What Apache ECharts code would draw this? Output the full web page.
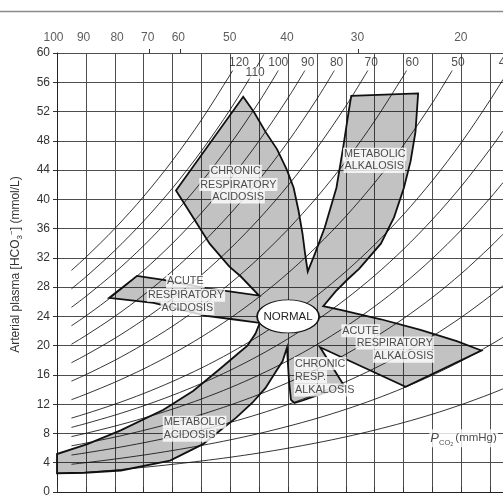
<!DOCTYPE html>
<html><head><meta charset="utf-8">
<script src="https://cdn.jsdelivr.net/npm/echarts@6/dist/echarts.min.js"></script>
<style>html,body{margin:0;padding:0;background:#fff}#c{width:503px;height:498px}</style>
</head><body><div id="c"></div><script>
// ---- top axis: [H+] (nmol/L) labels placed on the pH scale ----
var topLabelText = ['100','90','80','70','60','50','40','30','20'];
var topLabelPH   = [6.994, 7.046, 7.104, 7.157, 7.21, 7.299, 7.398, 7.52, 7.699];
var topShortTickPH = [7.159, 7.213, 7.522];

// ---- isopleths (PCO2, mmHg): HCO3 read at sample pH values ----
var phSamples = [7.025,7.05,7.10,7.15,7.20,7.25,7.30,7.35,7.40,7.45,7.50,7.55,7.60,7.65,7.70,7.75,7.772];
var iso10  = [2.52,2.67,3.00,3.37,3.78,4.24,4.75,5.33,5.99,6.72,7.54,8.46,9.49,10.64,11.94,13.40,14.10];
var iso15  = [3.79,4.01,4.50,5.05,5.67,6.36,7.13,8.00,8.98,10.07,11.30,12.68,14.23,15.97,17.91,20.10,21.14];
var iso20  = [5.05,5.35,6.00,6.73,7.55,8.48,9.51,10.67,11.97,13.43,15.07,16.91,18.97,21.29,23.89,26.80,28.19];
var iso25  = [6.31,6.68,7.50,8.42,9.44,10.59,11.89,13.34,14.96,16.79,18.84,21.14,23.72,26.61,29.86,33.50,35.24];
var iso30  = [7.57,8.02,9.00,10.10,11.33,12.71,14.26,16.00,17.96,20.15,22.61,25.37,28.46,31.93,35.83,40.20,42.29];
var iso35  = [8.83,9.36,10.50,11.78,13.22,14.83,16.64,18.67,20.95,23.51,26.37,29.59,33.20,37.26,41.80,46.90,49.34];
var iso40  = [10.10,10.70,12.00,13.46,15.11,16.95,19.02,21.34,23.94,26.86,30.14,33.82,37.95,42.58,47.77,53.60,56.39];
var iso50  = [12.62,13.37,15.00,16.83,18.88,21.19,23.77,26.67,29.93,33.58,37.68,42.28,47.43,53.22];
var iso60  = [15.15,16.04,18.00,20.20,22.66,25.43,28.53,32.01,35.91,40.30,45.21,50.73,56.92];
var iso70  = [17.67,18.72,21.00,23.56,26.44,29.66,33.28,37.34,41.90,47.01,52.75];
var iso80  = [20.19,21.39,24.00,26.93,30.21,33.90,38.04,42.68,47.89,53.73];
var iso90  = [22.72,24.06,27.00,30.29,33.99,38.14,42.79,48.01,53.87];
var iso100 = [25.24,26.74,30.00,33.66,37.77,42.38,47.55,53.35];
var iso110 = [27.77,29.41,33.00,37.03,41.54,46.61,52.30,58.68];
var iso120 = [30.29,32.09,36.00,40.39,45.32,50.85,57.06];
// end points (pH, HCO3) where each upper curve stops (null = runs to the edge)
var isoEndPH   = [null,null,null,null,null,null,null,7.684,7.605,7.538,7.480,7.429,7.383,7.358,7.304];
var isoEndHCO3 = [null,null,null,null,null,null,null,57.6,57.6,57.6,57.6,57.6,57.6,59.8,57.6];
var isoCurves = [iso10,iso15,iso20,iso25,iso30,iso35,iso40,iso50,iso60,iso70,iso80,iso90,iso100,iso110,iso120];

// isopleth labels
var isoLabelText = ['120','110','100','90','80','70','60','50','40'];
var isoLabelPH   = [7.315, 7.343, 7.383, 7.434, 7.484, 7.544, 7.615, 7.694, 7.776];
var isoLabelHCO3 = [58.7, 57.3, 58.7, 58.7, 58.7, 58.7, 58.7, 58.7, 58.7];

// ---- outline of the shaded acid-base band (pH, HCO3) ----
var outlinePH = [7.3223,7.3411,7.3610,7.3810,7.3981,7.4096,7.4181,7.4250,7.4294,7.4340,
  7.4465,7.4636,7.4837,7.4951,7.5047,7.5093,7.6251,7.6205,7.6120,7.6005,7.5834,7.5606,
  7.5233,7.5028,7.4823,7.4609,7.4927,7.5606,7.6291,7.6919,7.7346,7.6034,7.4554,7.4973,
  7.4529,7.4238,7.4110,7.4050,7.4015,7.3995,7.3981,7.3904,7.3781,7.3610,7.3382,7.3097,
  7.2527,7.1957,7.1107,7.0474,7.0,7.0,7.0525,7.1102,7.1843,7.2356,7.2813,7.3155,7.3297,
  7.3434,7.3511,7.3040,7.2583,7.1672,7.0902,7.1386,7.1843,7.2583,7.3497,7.3182,7.2984,
  7.2642,7.2356,7.2060];
var outlineHCO3 = [54.02,51.91,49.22,46.83,44.00,41.58,38.44,35.28,32.59,30.12,
  32.59,36.19,41.58,46.97,51.91,54.15,54.47,49.22,45.18,41.58,37.53,33.94,
  30.53,29.04,27.43,25.40,24.87,23.61,22.17,20.62,19.34,14.39,19.78,14.49,
  13.27,12.47,12.16,12.60,15.30,17.86,19.74,17.86,16.37,14.22,12.20,10.13,
  6.54,4.29,2.94,2.63,2.56,5.19,6.54,8.42,11.25,13.81,16.78,19.07,20.01,
  21.63,23.11,23.61,24.06,25.85,26.52,29.54,29.00,27.87,26.85,29.45,30.80,
  33.94,37.53,41.21];

// normal point
var normalPH = 7.40, normalHCO3 = 24.0;

// region label lines
var regionText = ['CHRONIC','RESPIRATORY','ACIDOSIS',
  'METABOLIC','ALKALOSIS',
  'ACUTE','RESPIRATORY','ACIDOSIS',
  'ACUTE','RESPIRATORY','ALKALOSIS',
  'CHRONIC','RESP.','ALKALOSIS',
  'METABOLIC','ACIDOSIS'];
var regionPH = [7.3092,7.3139,7.3134, 7.5500,7.5492, 7.2222,7.2233,7.2257,
  7.5256,7.5846,7.6000, 7.4102,7.4102,7.4102, 7.1831,7.1831];
var regionHCO3 = [43.83,42.02,40.32, 46.16,44.50, 28.77,26.89,25.09,
  22.04,20.38,18.57, 17.55,15.74,13.95, 9.54,7.75];
var regionAlign = ['center','center','center','center','center','center','center','center',
  'center','center','center','left','left','left','left','left'];

var FONT = '"Liberation Sans", Arial, Helvetica, sans-serif';
var chart = echarts.init(document.getElementById('c'), null, {renderer:'canvas'});

var series = [];
// shaded region
series.push({
  type:'custom', coordinateSystem:'cartesian2d', silent:true, z:2,
  data:[[normalPH, normalHCO3]],
  renderItem:function(params, api){
    var pts = outlinePH.map(function(p,i){ return api.coord([p, outlineHCO3[i]]); });
    return {type:'polygon', shape:{points:pts},
      style:{fill:'rgba(0,0,0,0.24)', stroke:'#111', lineWidth:1.8, lineJoin:'miter'}};
  }
});
// isopleth curves
isoCurves.forEach(function(arr, k){
  var d = arr.map(function(v,i){ return [phSamples[i], v]; });
  if (isoEndPH[k] !== null) d.push([isoEndPH[k], isoEndHCO3[k]]);
  series.push({type:'line', data:d, symbol:'none', smooth:0.3, silent:true, z:3,
    lineStyle:{color:'#111', width:0.85}});
});
// normal ellipse
series.push({type:'scatter', data:[[normalPH, normalHCO3]], symbol:'circle', symbolSize:[62,33],
  z:6, silent:true,
  itemStyle:{color:'#fff', borderColor:'#111', borderWidth:1.3, opacity:1},
  label:{show:true, position:'inside', formatter:'NORMAL', color:'#222', fontSize:11.5, fontFamily:FONT}});
// region labels
series.push({type:'scatter', symbolSize:0, z:7, silent:true, clip:false,
  data: regionText.map(function(t,i){
    return {value:[regionPH[i], regionHCO3[i]], name:t,
      label:{align:regionAlign[i]}};
  }),
  label:{show:true, position:'inside', formatter:'{b}', color:'#222', fontSize:10.8, fontFamily:FONT,
    backgroundColor:'#fff', padding:[1,1,0,1], lineHeight:12}
});
// isopleth value labels
series.push({type:'scatter', symbolSize:0, z:7, silent:true, clip:false,
  data: isoLabelText.map(function(t,i){
    return {value:[isoLabelPH[i], isoLabelHCO3[i]], name:t,
      label:{backgroundColor: i===1 ? '#fff' : 'transparent'}};
  }),
  label:{show:true, position:'inside', formatter:'{b}', color:'#222', fontSize:12, fontFamily:FONT, padding:[0,1]}
});
// top [H+] labels (above the plot, on the pH scale)
series.push({type:'scatter', symbolSize:0, z:7, silent:true, clip:false,
  data: topLabelText.map(function(t,i){ return {value:[topLabelPH[i], 62.15], name:t}; }),
  label:{show:true, position:'inside', formatter:'{b}', color:'#333', fontSize:12, fontFamily:FONT}
});
// PCO2 axis caption
series.push({type:'scatter', symbolSize:0, z:7, silent:true, clip:false,
  data:[{value:[7.6445, 7.35], name:'pco2'}],
  label:{show:true, position:'inside', align:'left', backgroundColor:'#fff', padding:[0,1,0,1],
    formatter:'{p|P}{s|CO}{ss|2}{n|(mmHg)}',
    rich:{
      p:{fontSize:13, fontStyle:'italic', color:'#222', fontFamily:FONT, lineHeight:18},
      s:{fontSize:7.5, color:'#222', fontFamily:FONT, verticalAlign:'bottom', lineHeight:13},
      ss:{fontSize:5.5, color:'#222', fontFamily:FONT, verticalAlign:'bottom', lineHeight:9},
      n:{fontSize:11.5, color:'#222', fontFamily:FONT, lineHeight:18, padding:[0,0,0,2]}
    }}
});

var option = {
  animation:false,
  backgroundColor:'#fff',
  grid:{left:52, right:0, top:53, bottom:0, containLabel:false},
  graphic:[{type:'line', shape:{x1:0, y1:11.5, x2:503, y2:11.5}, style:{stroke:'#8a8a8a', lineWidth:1.5}, silent:true}],
  xAxis:[{
    type:'value', position:'top', min:7.0, max:7.772, interval:0.05,
    axisLine:{show:true, lineStyle:{color:'#222', width:1}},
    axisTick:{show:true, length:5, lineStyle:{color:'#333', width:1}},
    axisLabel:{show:false},
    splitLine:{show:true, lineStyle:{color:'#4d4d4d', width:1}}
  },{
    type:'value', position:'top', min:7.0, max:7.772,
    axisLine:{show:false},
    axisTick:{show:true, length:4, customValues:topShortTickPH, lineStyle:{color:'#333', width:1}},
    axisLabel:{show:false},
    splitLine:{show:false}
  }],
  yAxis:{
    type:'value', min:0, max:60, interval:4,
    axisLine:{show:true, lineStyle:{color:'#222', width:1}},
    axisTick:{show:true, length:4, lineStyle:{color:'#333'}},
    axisLabel:{color:'#333', fontSize:12, fontFamily:FONT, margin:7},
    splitLine:{show:true, lineStyle:{color:'#4d4d4d', width:1}},
    name:'{t|Arterial plasma [HCO}{s|3}{u|−}{t|] (mmol/L)}',
    nameLocation:'middle', nameGap:33, nameRotate:90,
    nameTextStyle:{padding:[0,0,0,16], rich:{
      t:{fontSize:12, color:'#333', fontFamily:FONT, lineHeight:16},
      s:{fontSize:8, color:'#333', fontFamily:FONT, verticalAlign:'bottom', lineHeight:12},
      u:{fontSize:8, color:'#333', fontFamily:FONT, verticalAlign:'top', lineHeight:12}
    }}
  },
  series:series
};
chart.setOption(option);
</script></body></html>
